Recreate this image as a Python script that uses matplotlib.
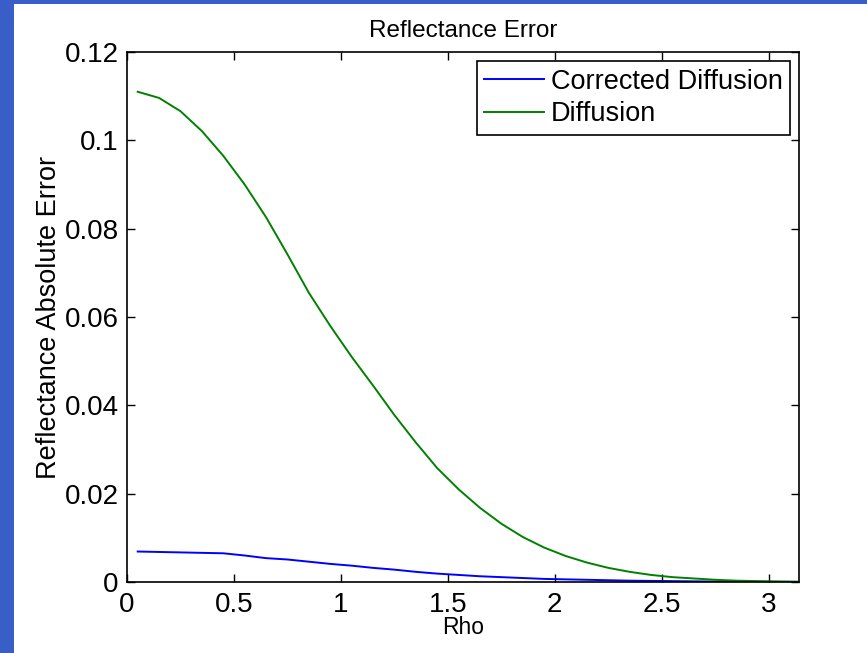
import numpy as np
import matplotlib
matplotlib.use("Agg")
import matplotlib.pyplot as plt
from matplotlib.patches import Rectangle

plt.rcParams['font.family'] = ['Liberation Sans', 'DejaVu Sans']

# rho bins (centres)
rho = [0.05, 0.15, 0.25, 0.35, 0.45, 0.55, 0.65, 0.75, 0.85, 0.95,
       1.05, 1.15, 1.25, 1.35, 1.45, 1.55, 1.65, 1.75, 1.85, 1.95,
       2.05, 2.15, 2.25, 2.35, 2.45, 2.55, 2.65, 2.75, 2.85, 2.95,
       3.05, 3.15]

corrected_err = [0.0069, 0.0068, 0.0067, 0.0066, 0.0065, 0.0060, 0.0054, 0.0051, 0.0046, 0.0041,
                 0.0037, 0.0032, 0.0028, 0.0023, 0.0019, 0.0016, 0.0013, 0.0011, 0.0009, 0.0007,
                 0.0006, 0.0005, 0.0004, 0.0003, 0.00025, 0.0002, 0.00015, 0.0001, 0.0001, 0.00005,
                 0.00005, 0.00003]

diffusion_err = [0.1110, 0.1096, 0.1066, 0.1021, 0.0965, 0.0900, 0.0826, 0.0742, 0.0655, 0.0580,
                 0.0510, 0.0445, 0.0378, 0.0316, 0.0258, 0.0210, 0.0168, 0.0132, 0.0102, 0.0078,
                 0.0059, 0.0044, 0.0032, 0.0023, 0.0016, 0.0011, 0.0008, 0.0005, 0.0003, 0.0002,
                 0.0001, 0.00005]

xticks = [0, 0.5, 1, 1.5, 2, 2.5, 3]
yticks = [0, 0.02, 0.04, 0.06, 0.08, 0.1, 0.12]
yticklabels = ['0', '0.02', '0.04', '0.06', '0.08', '0.1', '0.12']

W, H = 867, 653
fig = plt.figure(figsize=(W / 100, H / 100), dpi=100, facecolor='white')

# blue window frame strips
frame_col = '#3a5ec8'
fig.patches.append(Rectangle((0, 0), 14 / W, 1, transform=fig.transFigure,
                             facecolor=frame_col, edgecolor='none'))
fig.patches.append(Rectangle((0, 1 - 4 / H), 1, 4 / H, transform=fig.transFigure,
                             facecolor=frame_col, edgecolor='none'))

ax = fig.add_axes([127 / W, (H - 582) / H, (799 - 127) / W, (582 - 52) / H])

ax.plot(rho, corrected_err, color=(0, 0, 1), lw=1.4, label='Corrected Diffusion')
ax.plot(rho, diffusion_err, color=(0, 0.5, 0), lw=1.4, label='Diffusion')

ax.set_xlim(0, np.pi)
ax.set_ylim(0, 0.12)
ax.set_xticks(xticks)
ax.set_xticklabels([('%g' % t) for t in xticks])
ax.set_yticks(yticks)
ax.set_yticklabels(yticklabels)

ax.tick_params(direction='in', length=6, width=1, top=True, right=True,
               labelsize=20)
ax.tick_params(axis='x', pad=7)
ax.tick_params(axis='y', pad=6)
for s in ax.spines.values():
    s.set_linewidth(1.2)

ax.set_title('Reflectance Error', fontsize=17.5, pad=11)
ax.set_xlabel('Rho', fontsize=16.5, labelpad=-1)
ax.set_ylabel('Reflectance Absolute Error', fontsize=19.5, labelpad=2)

leg = ax.legend(loc='upper right', fontsize=19.5, fancybox=False, framealpha=1,
                edgecolor='black', borderaxespad=0.33, handlelength=2.2,
                handletextpad=0.25, borderpad=0.28, labelspacing=0.25)
leg.get_frame().set_linewidth(1.2)

fig.savefig('out.png', dpi=100, facecolor=fig.get_facecolor())
